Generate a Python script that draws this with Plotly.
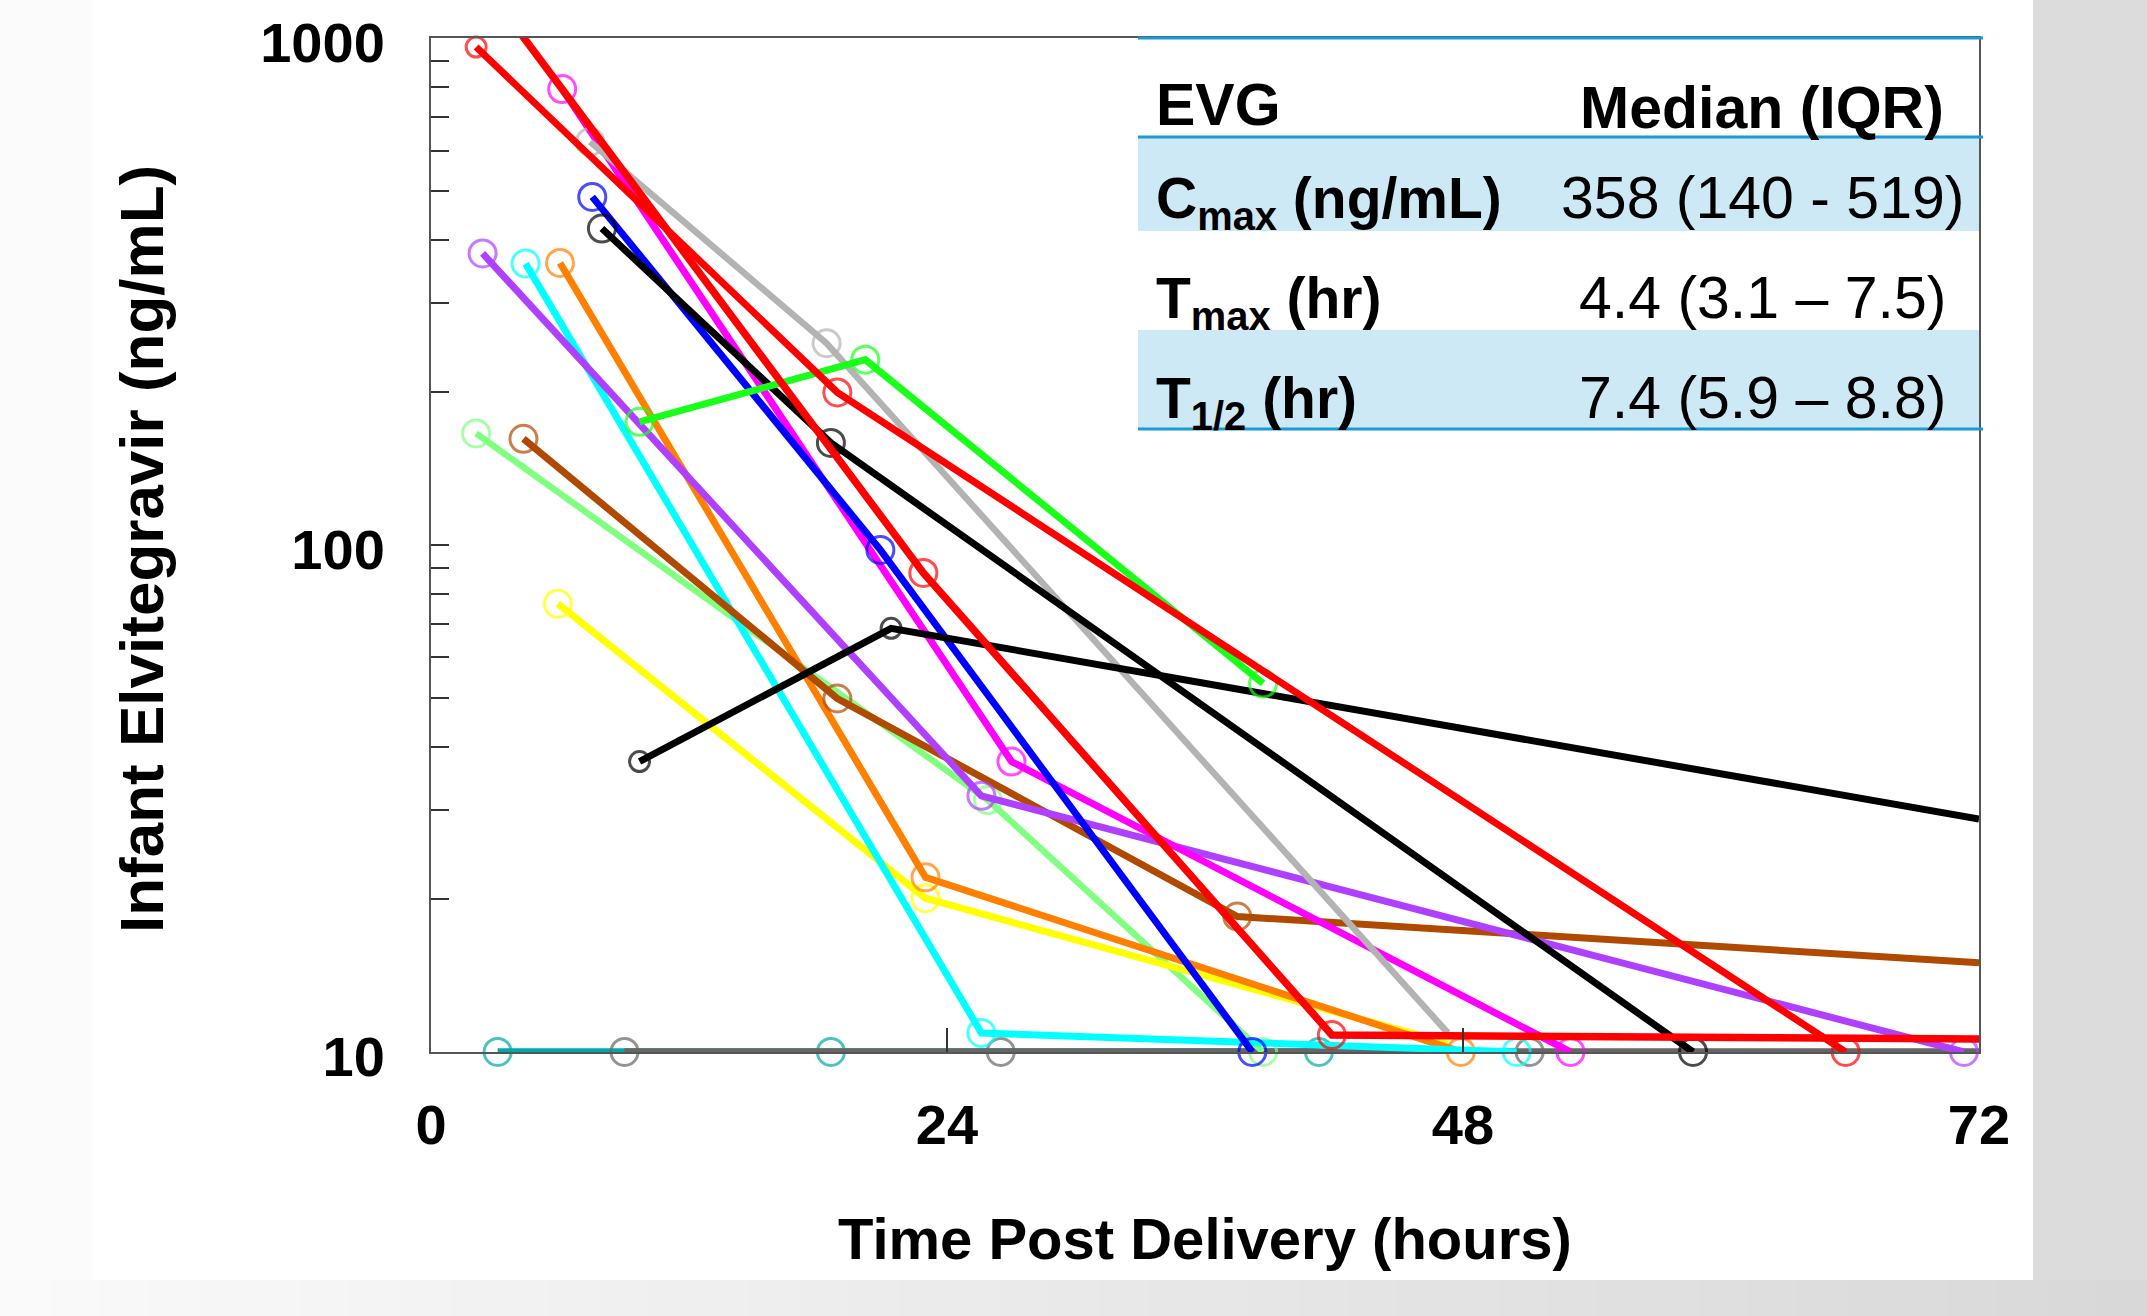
import plotly.graph_objects as go

# ---------------- data (hours, ng/mL) ----------------
t_teal = [3.1, 18.6, 41.3]
c_teal = [10, 10, 10]
t_dgray = [9.0, 26.5, 51.1, 72]
c_dgray = [10, 10, 10, 10]
t_lgreen = [2.1, 25.9, 38.7]
c_lgreen = [166, 31.4, 10]
t_yellow = [5.9, 23.0, 47.3]
c_yellow = [76.6, 20.1, 10.4]
t_orange = [6.0, 23.0, 47.9]
c_orange = [360, 22.1, 10]
t_cyan = [4.4, 25.6, 50.5]
c_cyan = [359, 10.9, 10]
t_brown = [4.3, 18.9, 37.5, 72]
c_brown = [162, 49.8, 18.5, 15.0]
t_purple = [2.4, 25.6, 71.3]
c_purple = [376, 32.0, 10]
t_magenta = [6.1, 27.0, 53.0]
c_magenta = [793, 37.4, 10]
t_blue = [7.5, 20.9, 38.2]
c_blue = [486, 97.8, 10]
t_lgray = [7.4, 18.4, 47.3]
c_lgray = [624, 250, 10.9]
t_black_a = [7.95, 18.6, 58.7]
c_black_a = [421, 159, 10]
t_black_b = [9.7, 21.4, 72]
c_black_b = [37.4, 68.5, 28.8]
t_green = [9.7, 20.2, 38.7]
c_green = [175, 232, 53.3]
t_red_a = [2.1, 18.9, 65.8]
c_red_a = [960, 200, 10]
t_red_b = [2.5, 22.9, 41.9, 57.3, 72]
c_red_b = [1270, 88.1, 10.8, 10.7, 10.6]

x_ticks = [0, 24, 48, 72]
y_ticks = [10, 100, 1000]
y_minor = [20, 30, 40, 50, 60, 70, 80, 90, 200, 300, 400, 500, 600, 700, 800, 900]

table_header = ["EVG", "Median (IQR)"]
table_params = ["C<sub>max</sub> (ng/mL)", "T<sub>max</sub> (hr)", "T<sub>1/2</sub> (hr)"]
table_values = ["358 (140 - 519)", "4.4 (3.1 \u2013 7.5)", "7.4 (5.9 \u2013 8.8)"]

# ---------------- geometry ----------------
W, H = 2147, 1316
L, R, T, B = 431, 1979, 38, 1052


def px(x):
    return (x - L) / (R - L)


def py(y):
    return (B - y) / (B - T)


FONT = "Liberation Sans"

fig = go.Figure()

MS = 27
LW = 7
series = [
    (t_teal, c_teal, "#00a8a8", [MS, MS, MS], 7.5, False),
    (t_dgray, c_dgray, "#666666", [MS, MS, MS, 0], 7.5, False),
    (t_lgreen, c_lgreen, "#80ff80", [MS, MS, MS], 6.5, False),
    (t_yellow, c_yellow, "#ffff00", [MS, MS, 0], LW, False),
    (t_orange, c_orange, "#ff8000", [MS, MS, MS], LW, False),
    (t_cyan, c_cyan, "#00ffff", [MS, MS, MS], LW, False),
    (t_brown, c_brown, "#b04a00", [MS, MS, MS, 0], LW, False),
    (t_purple, c_purple, "#b040ff", [MS, MS, MS], LW, False),
    (t_magenta, c_magenta, "#ff00ff", [MS, MS, MS], LW, False),
    (t_blue, c_blue, "#0000ff", [MS, MS, MS], LW, False),
    (t_lgray, c_lgray, "#b3b3b3", [MS, MS, 0], 6.5, False),
    (t_black_a, c_black_a, "#000000", [MS, MS, MS], LW, False),
    (t_black_b, c_black_b, "#000000", [20, 20, 0], LW, False),
    (t_green, c_green, "#19ff19", [MS, MS, MS], LW, False),
    (t_red_a, c_red_a, "#ff0000", [20, MS, MS], LW, False),
    (t_red_b, c_red_b, "#ff0000", [0, MS, MS, 0, 0], 7.5, True),
]

for xs, ys, col, sizes, lw, clip in series:
    fig.add_trace(go.Scatter(
        x=xs, y=ys, mode="lines+markers",
        line=dict(color=col, width=lw),
        marker=dict(symbol="circle-open", size=sizes, color=col, line=dict(width=3, color=col)),
        cliponaxis=clip, showlegend=False, hoverinfo="skip",
    ))

shapes = []
# background panels
shapes.append(dict(type="rect", xref="paper", yref="paper", x0=px(0), x1=px(93), y0=py(1280), y1=py(0),
                   fillcolor="#fbfbfb", line=dict(width=0), layer="below"))
shapes.append(dict(type="rect", xref="paper", yref="paper", x0=px(93), x1=px(2033), y0=py(1280), y1=py(0),
                   fillcolor="#ffffff", line=dict(width=0), layer="below"))
n = 43
for i in range(n):
    x0 = W * i / n
    x1 = W * (i + 1) / n + 1
    g = int(round(250 - (250 - 216) * (i + 0.5) / n))
    shapes.append(dict(type="rect", xref="paper", yref="paper", x0=px(x0), x1=px(x1), y0=py(1316), y1=py(1280),
                       fillcolor=f"rgb({g},{g},{g})", line=dict(width=0), layer="below"))
# table fills
for (y0, y1) in [(137, 231), (330, 429)]:
    shapes.append(dict(type="rect", xref="paper", yref="paper", x0=px(1138), x1=px(1979), y0=py(y1), y1=py(y0),
                       fillcolor="#cde9f5", line=dict(width=0), layer="below"))
# table rules
for yy in [38, 137, 429]:
    shapes.append(dict(type="line", xref="paper", yref="paper", x0=px(1138), x1=px(1983), y0=py(yy), y1=py(yy),
                       line=dict(color="#1a9ad6", width=3), layer="above"))

annotations = []
bold_h = dict(family=FONT, size=59, color="black", weight="bold")
bold = dict(family=FONT, size=57, color="black", weight="bold")
reg = dict(family=FONT, size=59, color="black")
annotations.append(dict(text=table_header[0], x=px(1154), y=py(105), xanchor="left", yanchor="middle",
                        xref="paper", yref="paper", showarrow=False, font=bold_h))
annotations.append(dict(text=table_header[1], x=px(1762), y=py(108), xanchor="center", yanchor="middle",
                        xref="paper", yref="paper", showarrow=False, font=bold_h))
row_y = [196, 296, 396]
for i in range(3):
    annotations.append(dict(text=table_params[i], x=px(1154), y=py(row_y[i] + 6), xanchor="left", yanchor="middle",
                            xref="paper", yref="paper", showarrow=False, font=bold))
    annotations.append(dict(text=table_values[i], x=px(1762), y=py(row_y[i] + 2), xanchor="center", yanchor="middle",
                            xref="paper", yref="paper", showarrow=False, font=reg))
# axis titles
annotations.append(dict(text="Time Post Delivery (hours)", x=px(1205), y=py(1238), xanchor="center", yanchor="middle",
                        xref="paper", yref="paper", showarrow=False,
                        font=dict(family=FONT, size=58, color="black", weight="bold")))
annotations.append(dict(text="Infant Elvitegravir (ng/mL)", x=px(141), y=py(549), xanchor="center", yanchor="middle",
                        textangle=-90, xref="paper", yref="paper", showarrow=False,
                        font=dict(family=FONT, size=62, color="black", weight="bold")))

fig.update_layout(
    width=W, height=H,
    margin=dict(l=L, r=W - R, t=T, b=H - B, pad=0),
    paper_bgcolor="#dcdcdc",
    plot_bgcolor="rgba(0,0,0,0)",
    shapes=shapes,
    annotations=annotations,
    showlegend=False,
)
fig.update_xaxes(
    range=[0, 72], tickvals=x_ticks, ticktext=[str(v) for v in x_ticks],
    ticks="inside", ticklen=24, tickwidth=1.5, tickcolor="#333333",
    showline=True, linecolor="#555555", linewidth=2, mirror=True,
    showgrid=False, zeroline=False, automargin=False,
    tickfont=dict(family=FONT, size=56, color="black", weight="bold"),
    ticklabelstandoff=23, ticklabeloverflow="allow",
)
fig.update_yaxes(
    type="log", range=[0.9999, 3.0001], tickvals=y_ticks, ticktext=[str(v) for v in y_ticks],
    ticks="inside", ticklen=18, tickwidth=1.5, tickcolor="#333333",
    minor=dict(tickvals=y_minor, ticks="inside", ticklen=18, tickwidth=1.5, tickcolor="#333333", showgrid=False),
    showline=True, linecolor="#555555", linewidth=2, mirror=True,
    showgrid=False, zeroline=False, automargin=False,
    tickfont=dict(family=FONT, size=56, color="black", weight="bold"),
    ticklabelstandoff=33, ticklabelshift=4, ticklabeloverflow="allow",
)

fig.write_html("out.html", post_script="document.body.style.margin='0';",
               config={"displayModeBar": False})
